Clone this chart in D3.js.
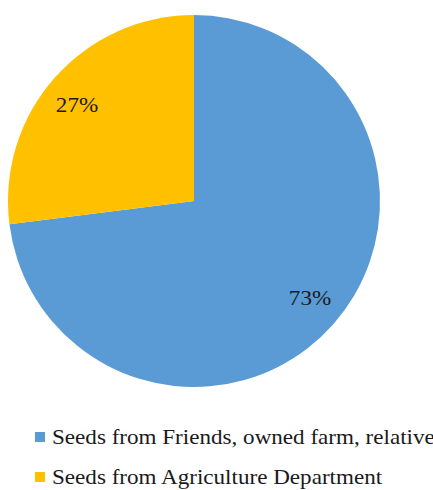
<!DOCTYPE html>
<html>
<meta charset="utf-8">
<script src="https://d3js.org/d3.v7.min.js"></script>
<style>
  body { margin: 0; background: #fff; }
  svg text { font-family: "Liberation Serif", "Times New Roman", serif; fill: #1a1a1a; }
</style>
<body>
<div id="chart"></div>
<script>
var WIDTH = 433, HEIGHT = 490;
var CX = 194, CY = 201, R = 186;
// the original's text is a bit wide for its height
var STRETCH = "scale(1.1,1)";

// data
var categories = ["Seeds from Friends, owned farm, relative", "Seeds from Agriculture Department"];
var values = [73, 27];
var colors = ["#5B9BD5", "#FFC000"];

var data = categories.map(function (c, i) { return { name: c, value: values[i], color: colors[i] }; });

var svg = d3.select("#chart").append("svg")
    .attr("width", WIDTH)
    .attr("height", HEIGHT);

var pie = d3.pie().sort(null).value(function (d) { return d.value; });
var arc = d3.arc().innerRadius(0).outerRadius(R);

var g = svg.append("g").attr("transform", "translate(" + CX + "," + CY + ")");

g.selectAll("path")
    .data(pie(data))
    .enter().append("path")
    .attr("d", arc)
    .attr("fill", function (d) { return d.data.color; });

// percentage labels, placed where the original put them (offset from pie centre)
var labelPos = [[116, 104], [-117, -89]];
g.selectAll("text.pct")
    .data(pie(data))
    .enter().append("text")
    .attr("class", "pct")
    .attr("transform", function (d, i) {
        return "translate(" + labelPos[i][0] + "," + labelPos[i][1] + ") " + STRETCH;
    })
    .attr("text-anchor", "middle")
    .attr("font-size", 21)
    .text(function (d) { return d.data.value + "%"; });

// legend
var legend = svg.selectAll("g.legend")
    .data(data)
    .enter().append("g")
    .attr("class", "legend")
    .attr("transform", function (d, i) { return "translate(35," + (432 + i * 40) + ")"; });

legend.append("rect")
    .attr("width", 10)
    .attr("height", 10)
    .attr("fill", function (d) { return d.color; });

legend.append("text")
    .attr("transform", "translate(17,12) " + STRETCH)
    .attr("font-size", 21)
    .text(function (d) { return d.name; });
</script>
</body>
</html>
